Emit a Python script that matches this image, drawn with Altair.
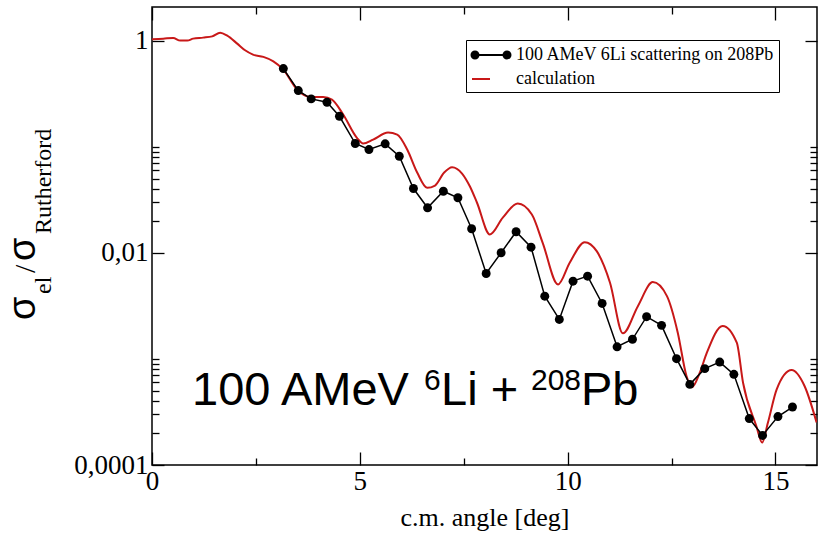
import altair as alt
import pandas as pd

# ---------------- data ----------------
exp_angle = [3.16, 3.52, 3.83, 4.21, 4.51, 4.89, 5.22, 5.61, 5.95, 6.29, 6.63, 7.01,
             7.36, 7.69, 8.04, 8.40, 8.76, 9.12, 9.45, 9.80, 10.13, 10.48, 10.83, 11.19,
             11.56, 11.90, 12.26, 12.62, 12.94, 13.30, 13.66, 14.00, 14.37, 14.69, 15.06, 15.41]
exp_ratio = [0.544, 0.3375, 0.2818, 0.2619, 0.1933, 0.1070, 0.0939, 0.1063, 0.0812, 0.0403,
             0.02653, 0.0380, 0.0330, 0.01683, 0.00638, 0.0100, 0.01577, 0.01129, 0.0039,
             0.002355, 0.0054, 0.00602, 0.00333, 0.0013, 0.00153, 0.0025, 0.00207, 0.001004,
             0.000575, 0.000809, 0.000933, 0.000715, 0.000274, 0.000190, 0.000286, 0.000352]

calc_angle = [0.0, 0.27, 0.51, 0.68, 0.85, 0.99, 1.23, 1.45, 1.64, 1.81, 2.05, 2.24, 2.43,
              2.68, 2.92, 3.16, 3.49, 3.81, 4.12, 4.33, 4.60, 4.93, 5.08, 5.32, 5.68, 5.90,
              6.14, 6.38, 6.62, 6.81, 7.03, 7.22, 7.46, 7.65, 7.82, 8.13, 8.44, 8.80, 9.14,
              9.40, 9.77, 10.05, 10.41, 10.70, 11.02, 11.33, 11.69, 12.05, 12.39, 12.65,
              12.86, 12.99, 13.18, 13.35, 13.73, 14.07, 14.22, 14.54, 14.68, 14.82, 15.03,
              15.39, 15.70, 15.99]
calc_ratio = [1.03, 1.042, 1.058, 0.998, 0.998, 1.042, 1.065, 1.095, 1.187, 1.112, 0.935,
              0.809, 0.737, 0.701, 0.637, 0.532, 0.345, 0.294, 0.294, 0.2777, 0.2006, 0.121,
              0.107, 0.1166, 0.1358, 0.130, 0.0939, 0.0570, 0.0409, 0.0430, 0.0570, 0.064,
              0.0558, 0.0421, 0.0296, 0.01486, 0.0214, 0.0291, 0.02295, 0.01242, 0.00503,
              0.00805, 0.01259, 0.01035, 0.00522, 0.00174, 0.00314, 0.00529, 0.0039,
              0.001766, 0.000689, 0.00054, 0.000741, 0.001144, 0.002046, 0.001422, 0.000597,
              0.000233, 0.0001626, 0.000251, 0.000516, 0.000785, 0.000555, 0.000252]

series_names = ["100 AMeV 6Li scattering on 208Pb", "calculation"]
series_colors = ["#000000", "#c81818"]

x_major = [0, 5, 10, 15]
x_all_ticks = [0, 2.5, 5, 7.5, 10, 12.5, 15]
y_major = [1, 0.01, 0.0001]
y_all_ticks = [1, 0.1, 0.09, 0.08, 0.07, 0.06, 0.05, 0.04, 0.03, 0.02, 0.01,
               0.001, 0.0009, 0.0008, 0.0007, 0.0006, 0.0005, 0.0004, 0.0003, 0.0002, 0.0001]

x_title = "c.m. angle [deg]"

# ---------------- layout ----------------
W, H = 665, 458
X_DOM = [0, 16]
Y_DOM = [0.0001, 2.07]
SERIF = "Liberation Serif"
SANS = "Liberation Sans"
RED = series_colors[1]

exp_df = pd.DataFrame({"angle": exp_angle, "ratio": exp_ratio})
calc_df = pd.DataFrame({"angle": calc_angle, "ratio": calc_ratio})

xs = alt.Scale(domain=X_DOM, nice=False, zero=False)
ys = alt.Scale(type="log", domain=Y_DOM, nice=False)

x_major_test = "datum.value % 5 == 0"
y_major_test = " || ".join(f"datum.value == {v}" for v in y_major)

x_tick_size = {"condition": {"test": x_major_test, "value": 13}, "value": 7}
y_tick_size = {"condition": {"test": y_major_test, "value": 12}, "value": 7}

# Layer A: calculation line + labelled axes
calc = alt.Chart(calc_df).mark_line(color=RED, strokeWidth=2, interpolate="monotone", clip=True).encode(
    x=alt.X("angle:Q", scale=xs, axis=alt.Axis(
        orient="bottom", values=x_major, ticks=False, domain=False, grid=False,
        labelFont=SERIF, labelFontSize=27, labelColor="black", labelPadding=3,
        labelFlush=False,
        title=x_title, titleFont=SERIF, titleFontSize=26, titleFontWeight="normal",
        titleColor="black", titlePadding=10)),
    y=alt.Y("ratio:Q", scale=ys, axis=alt.Axis(
        orient="left", values=y_major, ticks=False, domain=False, grid=False,
        labelExpr="replace(toString(datum.value), '.', ',')", labelFlush=False,
        labelFont=SERIF, labelFontSize=27, labelColor="black", labelPadding=4,
        title=None)),
)

# Layer B: experimental line, inward ticks on bottom and left edges
exp_line = alt.Chart(exp_df).mark_line(color="black", strokeWidth=1.5).encode(
    x=alt.X("angle:Q", scale=xs, axis=alt.Axis(
        orient="top", offset=-H, values=x_all_ticks, labels=False, domain=False,
        grid=False, tickSize=x_tick_size, tickColor="black", tickWidth=1.3, title=None)),
    y=alt.Y("ratio:Q", scale=ys, axis=alt.Axis(
        orient="right", offset=-W, values=y_all_ticks, labels=False, domain=False,
        grid=False, tickSize=y_tick_size, tickColor="black", tickWidth=1.3, title=None)),
)

# Layer C: experimental points, inward ticks on top and right edges
exp_pts = alt.Chart(exp_df).mark_circle(color="black", size=80, opacity=1).encode(
    x=alt.X("angle:Q", scale=xs, axis=alt.Axis(
        orient="bottom", offset=-H, values=x_all_ticks, labels=False, domain=False,
        grid=False, tickSize=x_tick_size, tickColor="black", tickWidth=1.3, title=None)),
    y=alt.Y("ratio:Q", scale=ys, axis=alt.Axis(
        orient="left", offset=-W, values=y_all_ticks, labels=False, domain=False,
        grid=False, tickSize=y_tick_size, tickColor="black", tickWidth=1.3, title=None)),
)

# Layer D: legend only (no rows drawn)
legend_paths = [
    "M-1.6,0L1.6,0M-1.95,0a0.35,0.35 0 1,0 0.7,0a0.35,0.35 0 1,0 -0.7,0"
    "M1.25,0a0.35,0.35 0 1,0 0.7,0a0.35,0.35 0 1,0 -0.7,0",
    "M-1.9,0L-0.1,0",
]
leg = alt.Legend(orient="none", legendX=314, legendY=33, title=None,
                 labelFont=SERIF, labelFontSize=18, labelColor="black", labelLimit=500,
                 symbolSize=400, symbolStrokeWidth=2, strokeColor="black",
                 fillColor="white", padding=4, rowPadding=4, labelOffset=14,
                 symbolOffset=10)
leg_df = pd.DataFrame({"series": series_names})
legend_layer = alt.Chart(leg_df).mark_point(filled=True, opacity=1).encode(
    fill=alt.Fill("series:N", scale=alt.Scale(domain=series_names, range=series_colors), legend=leg),
    stroke=alt.Stroke("series:N", scale=alt.Scale(domain=series_names, range=series_colors), legend=leg),
    shape=alt.Shape("series:N", scale=alt.Scale(domain=series_names, range=legend_paths), legend=leg),
).transform_filter("false")

one = pd.DataFrame({"k": [0]})

def txt(s, x, y, font, size, angle=0):
    return alt.Chart(one).mark_text(
        text=s, font=font, fontSize=size, align="left", baseline="alphabetic",
        angle=angle, color="black").encode(x=alt.value(x), y=alt.value(y))

# y-axis title: sigma_el / sigma_Rutherford (rotated)
ytitle = [
    txt("σ", -117, 313, SANS, 38, 270),
    txt("el", -101, 287, SERIF, 24, 270),
    txt("/", -117, 266, SERIF, 30, 270),
    txt("σ", -117, 254, SANS, 38, 270),
    txt("Rutherford", -101, 227, SERIF, 24, 270),
]

# annotation: 100 AMeV ^6Li + ^208Pb
ann = [
    txt("100 AMeV", 40, 398, SANS, 47),
    txt("6", 272, 383, SANS, 30),
    txt("Li +", 289, 398, SANS, 47),
    txt("208", 379, 383, SANS, 30),
    txt("Pb", 429, 398, SANS, 47),
]

chart = alt.layer(calc, exp_line, exp_pts, legend_layer, *ytitle, *ann).resolve_scale(
    x="independent", y="independent"
).properties(
    width=W, height=H,
    padding={"left": 152, "top": 7, "right": 9, "bottom": 68},
    autosize=alt.AutoSizeParams(type="none"),
    background="white",
).configure_view(stroke="black", strokeWidth=1.5).configure_axis(grid=False)

chart.save("out.html", embed_options={"renderer": "svg", "actions": False})
